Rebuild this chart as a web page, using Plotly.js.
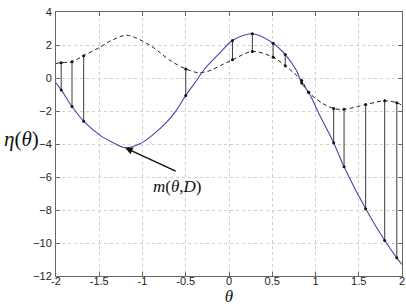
<!DOCTYPE html>
<html>
<head>
<meta charset="utf-8">
<script src="https://cdn.plot.ly/plotly-3.0.1.min.js"></script>
<style>
  html, body { margin: 0; padding: 0; background: #fff; }
  #plot { width: 406px; height: 306px; }
</style>
</head>
<body>
<div id="plot"></div>
<script>
// Posterior mean m(theta, D) (solid blue)
const thetaMean = [-2, -1.94, -1.815, -1.68, -1.49, -1.35, -1.2, -1.03, -0.875, -0.72, -0.605, -0.5, -0.375, -0.28, -0.1, 0.04, 0.27, 0.51, 0.65, 0.78, 0.84, 0.92, 1.05, 1.21, 1.33, 1.58, 1.8, 1.94, 2];
const meanVals  = [-0.29, -0.72, -1.73, -2.62, -3.48, -3.89, -4.23, -3.99, -3.42, -2.68, -1.93, -1.06, -0.15, 0.56, 1.55, 2.27, 2.68, 2.11, 1.42, 0.45, -0.3, -0.86, -2.27, -3.92, -5.38, -7.93, -9.85, -10.9, -11.3];

// True function eta(theta) (dashed black)
const thetaEta = [-2, -1.94, -1.815, -1.68, -1.49, -1.35, -1.18, -0.91, -0.68, -0.5, -0.35, -0.22, -0.1, 0.04, 0.27, 0.51, 0.65, 0.75, 0.84, 0.92, 1.09, 1.21, 1.33, 1.58, 1.8, 1.94, 2];
const etaVals   = [0.88, 0.93, 0.99, 1.35, 1.87, 2.3, 2.59, 1.97, 1.06, 0.55, 0.32, 0.45, 0.75, 1.1, 1.61, 1.26, 0.74, 0.3, -0.15, -0.86, -1.56, -1.85, -1.9, -1.61, -1.38, -1.5, -1.65];

// Sample locations: eta and mean values joined by vertical stems
const stemTheta = [-1.94, -1.815, -1.68, -0.5, 0.04, 0.27, 0.51, 0.65, 0.84, 0.92, 1.21, 1.33, 1.58, 1.8, 1.94];
const stemEta   = [0.93, 0.99, 1.35, 0.55, 1.1, 1.61, 1.26, 0.74, -0.15, -0.86, -1.85, -1.9, -1.61, -1.38, -1.5];
const stemMean  = [-0.72, -1.73, -2.62, -1.06, 2.27, 2.68, 2.11, 1.42, -0.3, -0.86, -3.92, -5.38, -7.93, -9.85, -10.9];

const xTicks = [-2, -1.5, -1, -0.5, 0, 0.5, 1, 1.5, 2];
const xTickText = ['-2', '-1.5', '-1', '-0.5', '0', '0.5', '1', '1.5', '2'];
const yTicks = [-12, -10, -8, -6, -4, -2, 0, 2, 4];

const sx = [], sy = [];
stemTheta.forEach((t, i) => {
  sx.push(t, t, null);
  sy.push(stemEta[i], stemMean[i], null);
});

const traces = [
  {
    x: sx, y: sy, mode: 'lines', type: 'scatter',
    line: { color: '#3a3a3a', width: 1 }, hoverinfo: 'skip'
  },
  {
    x: thetaEta, y: etaVals, mode: 'lines', type: 'scatter',
    line: { color: '#222', width: 1, dash: '4px,3px', shape: 'spline', smoothing: 0.9 }
  },
  {
    x: thetaMean, y: meanVals, mode: 'lines', type: 'scatter',
    line: { color: '#4545a8', width: 1.1, shape: 'spline', smoothing: 0.9 }
  },
  {
    x: stemTheta.concat(stemTheta), y: stemEta.concat(stemMean), mode: 'markers', type: 'scatter',
    marker: { color: '#111', size: 3 }
  }
];

const axisCommon = {
  showline: true, linecolor: '#666', linewidth: 1, mirror: 'ticks',
  ticks: 'inside', ticklen: 4, tickcolor: '#666',
  showgrid: true, gridcolor: '#d0d0d0', griddash: 'dot', gridwidth: 1,
  zeroline: false,
  tickfont: { family: 'Liberation Sans, Arial, sans-serif', size: 11, color: '#222' }
};

const layout = {
  width: 406, height: 306,
  margin: { l: 56, r: 4, t: 12, b: 30 },
  paper_bgcolor: '#fff', plot_bgcolor: '#fff',
  showlegend: false,
  xaxis: Object.assign({}, axisCommon, {
    range: [-2, 2], tickvals: xTicks, ticktext: xTickText, ticklabelstandoff: -5,
    title: {
      text: '<i>θ</i>', standoff: 3,
      font: { family: 'Liberation Serif, Times New Roman, serif', size: 17, color: '#111' }
    }
  }),
  yaxis: Object.assign({}, axisCommon, {
    range: [-12, 4], tickvals: yTicks, ticklabelstandoff: 1
  }),
  annotations: [
    {
      xref: 'paper', yref: 'paper', x: -0.101, y: 0.52,
      text: '<i>η</i>(<i>θ</i>)', showarrow: false,
      font: { family: 'Liberation Serif, Times New Roman, serif', size: 21, color: '#111' },
      xanchor: 'center', yanchor: 'middle'
    },
    {
      xref: 'x', yref: 'y', x: -1.2, y: -4.23,
      ax: 52, ay: 24, showarrow: true,
      arrowhead: 2, arrowsize: 1, arrowwidth: 1.5, arrowcolor: '#111', text: ''
    },
    {
      xref: 'x', yref: 'y', x: -0.6, y: -6.55,
      text: '<i>m</i>(<i>θ</i>,<i>D</i>)', showarrow: false,
      font: { family: 'Liberation Serif, Times New Roman, serif', size: 17, color: '#111' },
      xanchor: 'center', yanchor: 'middle'
    }
  ]
};

Plotly.newPlot('plot', traces, layout, { staticPlot: true, displayModeBar: false });
</script>
</body>
</html>
